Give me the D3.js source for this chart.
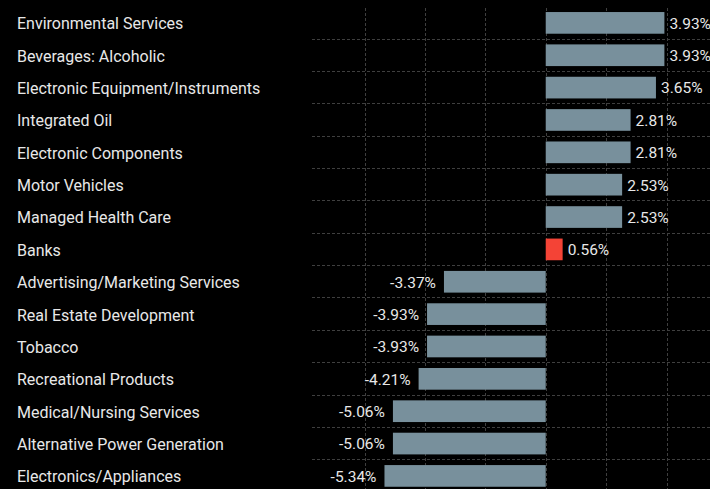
<!DOCTYPE html>
<html>
<head>
<meta charset="utf-8">
<script src="https://cdn.jsdelivr.net/npm/d3@7"></script>
<style>
  html, body { margin: 0; padding: 0; background: #000; }
  svg { display: block; }
  text { font-family: Roboto, sans-serif; }
</style>
</head>
<body>
<svg id="chart"></svg>
<script>
// industries, top to bottom
const categories = [
  'Environmental Services',
  'Beverages: Alcoholic',
  'Electronic Equipment/Instruments',
  'Integrated Oil',
  'Electronic Components',
  'Motor Vehicles',
  'Managed Health Care',
  'Banks',
  'Advertising/Marketing Services',
  'Real Estate Development',
  'Tobacco',
  'Recreational Products',
  'Medical/Nursing Services',
  'Alternative Power Generation',
  'Electronics/Appliances'
];
const values = [3.93, 3.93, 3.65, 2.81, 2.81, 2.53, 2.53, 0.56, -3.37, -3.93, -3.93, -4.21, -5.06, -5.06, -5.34];
const highlighted = ['Banks'];
const gridTicks = [-6, -4, -2, 0, 2, 4];

const width = 710, height = 489;
const plot = { left: 312, right: 710, top: 8, bottom: 489 };

const svg = d3.select('#chart')
  .attr('width', width)
  .attr('height', height);

const x = d3.scaleLinear()
  .domain([-7.74, 5.44])
  .range([plot.left, plot.right]);

const y = d3.scaleBand()
  .domain(categories)
  .range([6.7, 6.7 + 15 * 32.36])
  .paddingInner(0.33)
  .paddingOuter(0.165);

const grid = svg.append('g').attr('stroke', '#3f3f3f').attr('stroke-dasharray', '3,2');

// vertical grid
grid.selectAll('line.v')
  .data(gridTicks)
  .enter().append('line')
  .attr('class', 'v')
  .attr('x1', d => Math.round(x(d)) + 0.5)
  .attr('x2', d => Math.round(x(d)) + 0.5)
  .attr('y1', plot.top)
  .attr('y2', plot.bottom);

// horizontal grid between rows
const gap = y.step() - y.bandwidth();
grid.selectAll('line.h')
  .data(categories.slice(1))
  .enter().append('line')
  .attr('class', 'h')
  .attr('x1', plot.left)
  .attr('x2', plot.right)
  .attr('y1', d => Math.round(y(d) - gap / 2 - 0.5) + 0.5)
  .attr('y2', d => Math.round(y(d) - gap / 2 - 0.5) + 0.5);

// bars
svg.selectAll('.bar')
  .data(values)
  .enter().append('rect')
  .attr('class', 'bar')
  .attr('x', d => x(Math.min(0, d)))
  .attr('y', (d, i) => y(categories[i]))
  .attr('width', d => Math.abs(x(d) - x(0)))
  .attr('height', y.bandwidth())
  .attr('fill', (d, i) => highlighted.includes(categories[i]) ? '#f44336' : '#78909c');

// category labels
svg.selectAll('.cat')
  .data(categories)
  .enter().append('text')
  .attr('class', 'cat')
  .attr('x', 17)
  .attr('y', d => y(d) + y.bandwidth() / 2)
  .attr('dy', '0.4em')
  .attr('fill', '#e8e8e8')
  .attr('font-size', 16)
  .text(d => d);

// value labels
svg.selectAll('.val')
  .data(values)
  .enter().append('text')
  .attr('class', 'val')
  .attr('x', d => d >= 0 ? x(d) + 5 : x(d) - 8)
  .attr('y', (d, i) => y(categories[i]) + y.bandwidth() / 2)
  .attr('dy', '0.38em')
  .attr('text-anchor', d => d >= 0 ? 'start' : 'end')
  .attr('fill', '#e8e8e8')
  .attr('font-size', 15.5)
  .text(d => d.toFixed(2) + '%');
</script>
</body>
</html>
